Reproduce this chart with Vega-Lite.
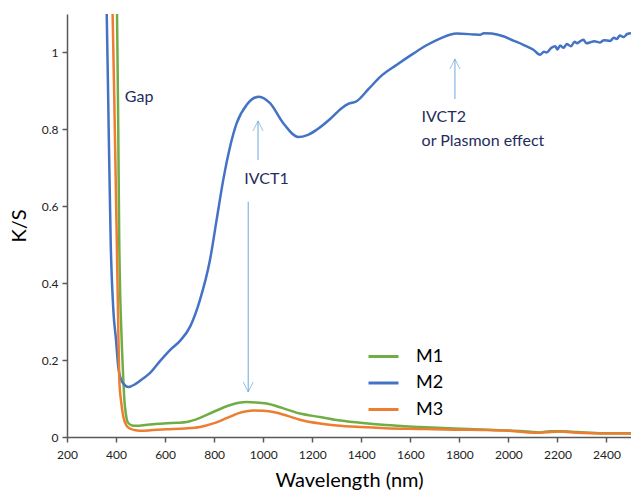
{
  "$schema": "https://vega.github.io/schema/vega-lite/v6.json",
  "width": 564,
  "height": 423,
  "autosize": "none",
  "padding": {"left": 67, "top": 14, "right": 0, "bottom": 55},
  "background": "white",
  "config": {
    "view": {"stroke": null},
    "font": "Lato",
    "axis": {
      "grid": false,
      "domainColor": "#595959",
      "domainWidth": 1.5,
      "tickColor": "#595959",
      "tickWidth": 1.5,
      "tickSize": 5,
      "labelFont": "Lato",
      "labelFontSize": 12,
      "labelColor": "#222222",
      "titleFont": "Lato",
      "titleFontSize": 20,
      "titleFontWeight": "normal",
      "titleColor": "#000000"
    }
  },
  "datasets": {
    "spectra": [
      {"wl": 398, "ks": 1.2, "sample": "M1"},
      {"wl": 404, "ks": 1.1, "sample": "M1"},
      {"wl": 409, "ks": 0.8, "sample": "M1"},
      {"wl": 413, "ks": 0.512, "sample": "M1"},
      {"wl": 423, "ks": 0.252, "sample": "M1"},
      {"wl": 429, "ks": 0.16, "sample": "M1"},
      {"wl": 434, "ks": 0.096, "sample": "M1"},
      {"wl": 440, "ks": 0.06, "sample": "M1"},
      {"wl": 448, "ks": 0.038, "sample": "M1"},
      {"wl": 465, "ks": 0.030, "sample": "M1"},
      {"wl": 484, "ks": 0.029, "sample": "M1"},
      {"wl": 520, "ks": 0.031, "sample": "M1"},
      {"wl": 560, "ks": 0.034, "sample": "M1"},
      {"wl": 607, "ks": 0.036, "sample": "M1"},
      {"wl": 650, "ks": 0.037, "sample": "M1"},
      {"wl": 688, "ks": 0.039, "sample": "M1"},
      {"wl": 740, "ks": 0.049, "sample": "M1"},
      {"wl": 796, "ks": 0.065, "sample": "M1"},
      {"wl": 860, "ks": 0.082, "sample": "M1"},
      {"wl": 900, "ks": 0.089, "sample": "M1"},
      {"wl": 933, "ks": 0.091, "sample": "M1"},
      {"wl": 970, "ks": 0.090, "sample": "M1"},
      {"wl": 1014, "ks": 0.087, "sample": "M1"},
      {"wl": 1080, "ks": 0.075, "sample": "M1"},
      {"wl": 1150, "ks": 0.061, "sample": "M1"},
      {"wl": 1232, "ks": 0.052, "sample": "M1"},
      {"wl": 1300, "ks": 0.044, "sample": "M1"},
      {"wl": 1395, "ks": 0.037, "sample": "M1"},
      {"wl": 1500, "ks": 0.031, "sample": "M1"},
      {"wl": 1640, "ks": 0.026, "sample": "M1"},
      {"wl": 1780, "ks": 0.022, "sample": "M1"},
      {"wl": 1912, "ks": 0.019, "sample": "M1"},
      {"wl": 2000, "ks": 0.017, "sample": "M1"},
      {"wl": 2080, "ks": 0.014, "sample": "M1"},
      {"wl": 2129, "ks": 0.012, "sample": "M1"},
      {"wl": 2170, "ks": 0.015, "sample": "M1"},
      {"wl": 2211, "ks": 0.015, "sample": "M1"},
      {"wl": 2280, "ks": 0.013, "sample": "M1"},
      {"wl": 2386, "ks": 0.010, "sample": "M1"},
      {"wl": 2500, "ks": 0.010, "sample": "M1"},

      {"wl": 355, "ks": 1.2, "sample": "M2"},
      {"wl": 362, "ks": 1.1, "sample": "M2"},
      {"wl": 370, "ks": 0.8, "sample": "M2"},
      {"wl": 378, "ks": 0.512, "sample": "M2"},
      {"wl": 389, "ks": 0.33, "sample": "M2"},
      {"wl": 400, "ks": 0.252, "sample": "M2"},
      {"wl": 409, "ks": 0.182, "sample": "M2"},
      {"wl": 420, "ks": 0.15, "sample": "M2"},
      {"wl": 430, "ks": 0.139, "sample": "M2"},
      {"wl": 450, "ks": 0.130, "sample": "M2"},
      {"wl": 480, "ks": 0.138, "sample": "M2"},
      {"wl": 510, "ks": 0.152, "sample": "M2"},
      {"wl": 538, "ks": 0.166, "sample": "M2"},
      {"wl": 580, "ks": 0.198, "sample": "M2"},
      {"wl": 620, "ks": 0.226, "sample": "M2"},
      {"wl": 661, "ks": 0.250, "sample": "M2"},
      {"wl": 702, "ks": 0.287, "sample": "M2"},
      {"wl": 742, "ks": 0.356, "sample": "M2"},
      {"wl": 783, "ks": 0.46, "sample": "M2"},
      {"wl": 810, "ks": 0.564, "sample": "M2"},
      {"wl": 837, "ks": 0.668, "sample": "M2"},
      {"wl": 865, "ks": 0.755, "sample": "M2"},
      {"wl": 892, "ks": 0.816, "sample": "M2"},
      {"wl": 933, "ks": 0.864, "sample": "M2"},
      {"wl": 983, "ks": 0.885, "sample": "M2"},
      {"wl": 1028, "ks": 0.868, "sample": "M2"},
      {"wl": 1082, "ks": 0.816, "sample": "M2"},
      {"wl": 1143, "ks": 0.780, "sample": "M2"},
      {"wl": 1180, "ks": 0.785, "sample": "M2"},
      {"wl": 1218, "ks": 0.799, "sample": "M2"},
      {"wl": 1273, "ks": 0.827, "sample": "M2"},
      {"wl": 1320, "ks": 0.855, "sample": "M2"},
      {"wl": 1347, "ks": 0.866, "sample": "M2"},
      {"wl": 1381, "ks": 0.873, "sample": "M2"},
      {"wl": 1430, "ks": 0.905, "sample": "M2"},
      {"wl": 1476, "ks": 0.936, "sample": "M2"},
      {"wl": 1545, "ks": 0.968, "sample": "M2"},
      {"wl": 1612, "ks": 0.997, "sample": "M2"},
      {"wl": 1670, "ks": 1.020, "sample": "M2"},
      {"wl": 1721, "ks": 1.036, "sample": "M2"},
      {"wl": 1789, "ks": 1.049, "sample": "M2"},
      {"wl": 1857, "ks": 1.047, "sample": "M2"},
      {"wl": 1884, "ks": 1.046, "sample": "M2"},
      {"wl": 1900, "ks": 1.050, "sample": "M2"},
      {"wl": 1932, "ks": 1.049, "sample": "M2"},
      {"wl": 1979, "ks": 1.042, "sample": "M2"},
      {"wl": 2020, "ks": 1.031, "sample": "M2"},
      {"wl": 2061, "ks": 1.020, "sample": "M2"},
      {"wl": 2102, "ks": 1.007, "sample": "M2"},
      {"wl": 2129, "ks": 0.994, "sample": "M2"},
      {"wl": 2145, "ks": 1.002, "sample": "M2"},
      {"wl": 2156, "ks": 1.000, "sample": "M2"},
      {"wl": 2175, "ks": 1.012, "sample": "M2"},
      {"wl": 2191, "ks": 1.016, "sample": "M2"},
      {"wl": 2200, "ks": 1.008, "sample": "M2"},
      {"wl": 2211, "ks": 1.018, "sample": "M2"},
      {"wl": 2225, "ks": 1.012, "sample": "M2"},
      {"wl": 2238, "ks": 1.022, "sample": "M2"},
      {"wl": 2255, "ks": 1.016, "sample": "M2"},
      {"wl": 2270, "ks": 1.028, "sample": "M2"},
      {"wl": 2279, "ks": 1.024, "sample": "M2"},
      {"wl": 2295, "ks": 1.030, "sample": "M2"},
      {"wl": 2306, "ks": 1.033, "sample": "M2"},
      {"wl": 2318, "ks": 1.024, "sample": "M2"},
      {"wl": 2333, "ks": 1.026, "sample": "M2"},
      {"wl": 2350, "ks": 1.029, "sample": "M2"},
      {"wl": 2374, "ks": 1.026, "sample": "M2"},
      {"wl": 2390, "ks": 1.032, "sample": "M2"},
      {"wl": 2415, "ks": 1.030, "sample": "M2"},
      {"wl": 2430, "ks": 1.038, "sample": "M2"},
      {"wl": 2442, "ks": 1.035, "sample": "M2"},
      {"wl": 2455, "ks": 1.044, "sample": "M2"},
      {"wl": 2469, "ks": 1.040, "sample": "M2"},
      {"wl": 2485, "ks": 1.048, "sample": "M2"},
      {"wl": 2500, "ks": 1.050, "sample": "M2"},

      {"wl": 378, "ks": 1.2, "sample": "M3"},
      {"wl": 386, "ks": 1.1, "sample": "M3"},
      {"wl": 395, "ks": 0.8, "sample": "M3"},
      {"wl": 403, "ks": 0.512, "sample": "M3"},
      {"wl": 410, "ks": 0.25, "sample": "M3"},
      {"wl": 414, "ks": 0.139, "sample": "M3"},
      {"wl": 420, "ks": 0.096, "sample": "M3"},
      {"wl": 430, "ks": 0.052, "sample": "M3"},
      {"wl": 442, "ks": 0.030, "sample": "M3"},
      {"wl": 457, "ks": 0.022, "sample": "M3"},
      {"wl": 475, "ks": 0.018, "sample": "M3"},
      {"wl": 498, "ks": 0.016, "sample": "M3"},
      {"wl": 550, "ks": 0.018, "sample": "M3"},
      {"wl": 607, "ks": 0.020, "sample": "M3"},
      {"wl": 680, "ks": 0.022, "sample": "M3"},
      {"wl": 742, "ks": 0.026, "sample": "M3"},
      {"wl": 800, "ks": 0.036, "sample": "M3"},
      {"wl": 851, "ks": 0.049, "sample": "M3"},
      {"wl": 900, "ks": 0.062, "sample": "M3"},
      {"wl": 960, "ks": 0.069, "sample": "M3"},
      {"wl": 1000, "ks": 0.068, "sample": "M3"},
      {"wl": 1041, "ks": 0.065, "sample": "M3"},
      {"wl": 1100, "ks": 0.055, "sample": "M3"},
      {"wl": 1150, "ks": 0.045, "sample": "M3"},
      {"wl": 1232, "ks": 0.035, "sample": "M3"},
      {"wl": 1300, "ks": 0.030, "sample": "M3"},
      {"wl": 1395, "ks": 0.026, "sample": "M3"},
      {"wl": 1500, "ks": 0.023, "sample": "M3"},
      {"wl": 1640, "ks": 0.021, "sample": "M3"},
      {"wl": 1780, "ks": 0.019, "sample": "M3"},
      {"wl": 1912, "ks": 0.018, "sample": "M3"},
      {"wl": 2000, "ks": 0.016, "sample": "M3"},
      {"wl": 2080, "ks": 0.012, "sample": "M3"},
      {"wl": 2129, "ks": 0.011, "sample": "M3"},
      {"wl": 2170, "ks": 0.013, "sample": "M3"},
      {"wl": 2211, "ks": 0.014, "sample": "M3"},
      {"wl": 2280, "ks": 0.011, "sample": "M3"},
      {"wl": 2386, "ks": 0.009, "sample": "M3"},
      {"wl": 2500, "ks": 0.009, "sample": "M3"}
    ],
    "notes": [
      {"wl": 436, "ks": 0.872, "label": "Gap"},
      {"wl": 923, "ks": 0.658, "label": "IVCT1"},
      {"wl": 1646, "ks": 0.818, "label": "IVCT2"},
      {"wl": 1646, "ks": 0.757, "label": "or Plasmon effect"}
    ],
    "arrows": [
      {"wl": 979, "from": 0.72, "to": 0.822, "dir": "up"},
      {"wl": 939, "from": 0.612, "to": 0.117, "dir": "down"},
      {"wl": 1782, "from": 0.879, "to": 0.983, "dir": "up"}
    ]
  },
  "layer": [
    {
      "data": {"name": "spectra"},
      "mark": {"type": "line", "strokeWidth": 2.5, "interpolate": "monotone", "clip": true},
      "encoding": {
        "x": {
          "field": "wl",
          "type": "quantitative",
          "scale": {"domain": [200, 2500], "nice": false},
          "axis": {
            "title": "Wavelength (nm)",
            "values": [200, 400, 600, 800, 1000, 1200, 1400, 1600, 1800, 2000, 2200, 2400],
            "format": "d",
            "labelPadding": 7,
            "titlePadding": 10,
            "labelFlush": false,
            "labelOverlap": false
          }
        },
        "y": {
          "field": "ks",
          "type": "quantitative",
          "scale": {"domain": [0, 1.1], "nice": false},
          "axis": {
            "title": "K/S",
            "values": [0, 0.2, 0.4, 0.6, 0.8, 1],
            "format": "~g",
            "labelPadding": 4,
            "titlePadding": 12
          }
        },
        "color": {
          "field": "sample",
          "type": "nominal",
          "scale": {"domain": ["M1", "M2", "M3"], "range": ["#70AD47", "#4472C4", "#ED7D31"]},
          "legend": {
            "title": null,
            "orient": "none",
            "legendX": 300,
            "legendY": 326,
            "symbolType": "stroke",
            "symbolSize": 900,
            "symbolStrokeWidth": 3,
            "labelFont": "Lato",
            "labelFontSize": 18,
            "labelColor": "#000000",
            "labelOffset": 16,
            "rowPadding": 0.5
          }
        }
      }
    },
    {
      "data": {"name": "arrows"},
      "mark": {"type": "rule", "color": "#6FA8DC", "strokeWidth": 1},
      "encoding": {
        "x": {"field": "wl", "type": "quantitative"},
        "y": {"field": "from", "type": "quantitative"},
        "y2": {"field": "to"}
      }
    },
    {
      "data": {"name": "arrows"},
      "transform": [{"filter": "datum.dir == 'up'"}],
      "mark": {"type": "point", "shape": "M-1,2L0,0L1,2", "size": 100, "filled": false, "color": "#6FA8DC", "strokeWidth": 1},
      "encoding": {
        "x": {"field": "wl", "type": "quantitative"},
        "y": {"field": "to", "type": "quantitative"}
      }
    },
    {
      "data": {"name": "arrows"},
      "transform": [{"filter": "datum.dir == 'down'"}],
      "mark": {"type": "point", "shape": "M-1,-2L0,0L1,-2", "size": 100, "filled": false, "color": "#6FA8DC", "strokeWidth": 1},
      "encoding": {
        "x": {"field": "wl", "type": "quantitative"},
        "y": {"field": "to", "type": "quantitative"}
      }
    },
    {
      "data": {"name": "notes"},
      "mark": {"type": "text", "align": "left", "baseline": "alphabetic", "font": "Lato", "fontSize": 16, "color": "#1F2D5C"},
      "encoding": {
        "x": {"field": "wl", "type": "quantitative"},
        "y": {"field": "ks", "type": "quantitative"},
        "text": {"field": "label"}
      }
    },
    {
      "mark": {"type": "rule", "color": "#404040", "strokeWidth": 1.5},
      "encoding": {"y": {"datum": 1.1}}
    }
  ]
}
